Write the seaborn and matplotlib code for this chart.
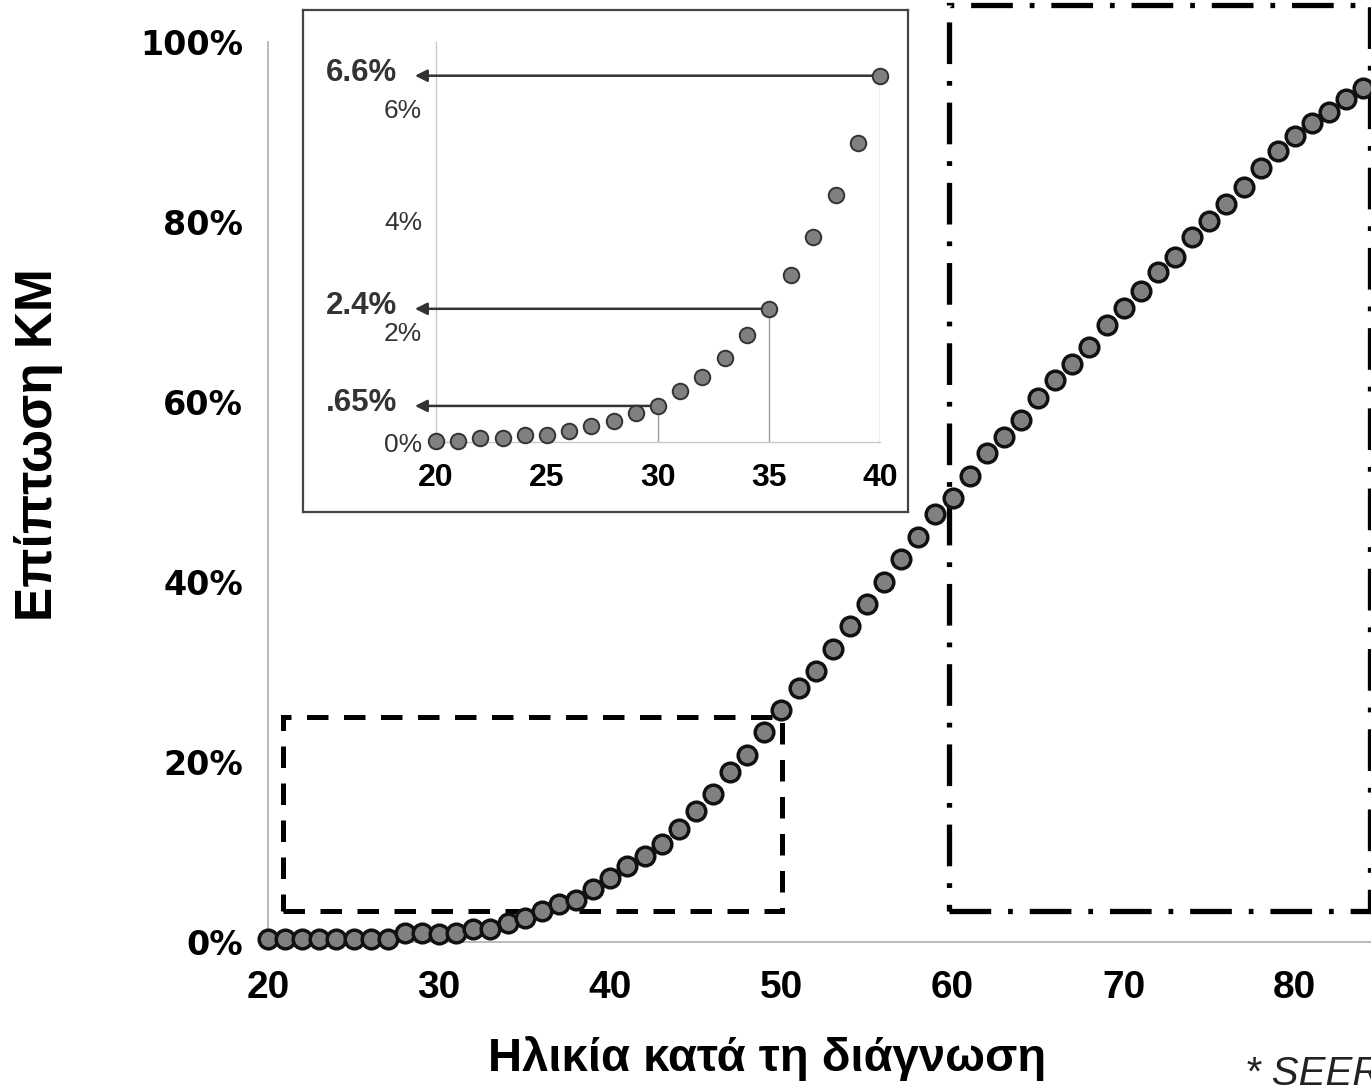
import seaborn as sns
import matplotlib.pyplot as plt
from matplotlib.patches import Rectangle
from matplotlib.ticker import MultipleLocator, FixedLocator, FuncFormatter

# Καμπύλη επίπτωσης ανά ηλικία (κύριο γράφημα)
ages = list(range(20, 85))
incidence = [0.3, 0.3, 0.3, 0.3, 0.3, 0.3, 0.3, 0.3, 1.0, 1.0,
             0.9, 1.0, 1.5, 1.4, 2.1, 2.7, 3.4, 4.2, 4.7, 5.9,
             7.1, 8.4, 9.6, 10.9, 12.6, 14.6, 16.4, 18.9, 20.8, 23.3,
             25.8, 28.2, 30.1, 32.6, 35.1, 37.6, 40.0, 42.6, 45.0, 47.6,
             49.3, 51.8, 54.3, 56.1, 58.0, 60.5, 62.4, 64.2, 66.1, 68.6,
             70.5, 72.3, 74.4, 76.1, 78.3, 80.1, 82.0, 83.9, 86.0, 87.9,
             89.6, 91.0, 92.2, 93.7, 94.9]

# Ένθετο: ηλικίες 20-40
inset_ages = list(range(20, 41))
inset_incidence = [0.02, 0.02, 0.08, 0.08, 0.13, 0.13, 0.19, 0.28, 0.38, 0.52,
                   0.65, 0.92, 1.17, 1.52, 1.92, 2.4, 3.01, 3.70, 4.45, 5.39, 6.6]
callout_ages = [30, 35, 40]
callout_values = [0.65, 2.4, 6.6]
callout_labels = ['.65%', '2.4%', '6.6%']

main_ticks = [0, 20, 40, 60, 80, 100]
inset_ticks = [0, 2, 4, 6]

sns.set_style('white')
plt.rcParams['font.family'] = ['Liberation Sans', 'DejaVu Sans']
plt.rcParams['text.color'] = 'black'
plt.rcParams['xtick.labelcolor'] = 'black'
plt.rcParams['ytick.labelcolor'] = 'black'

W, H = 1371, 1085
fig = plt.figure(figsize=(W / 100, H / 100), dpi=100)

tick_grey = '#aaaaaa'
fill = '#808080'

# ---- κύριο γράφημα
ax = fig.add_axes([268 / W, 1 - 942 / H, (W - 268) / W, 900 / H])
sns.scatterplot(x=ages, y=incidence, ax=ax, s=180, color=fill,
                edgecolor='#111111', linewidth=2.5, zorder=5, clip_on=False)
ax.set_xlim(20, 84.45)
ax.set_ylim(0, 100)
for side in ['top', 'right']:
    ax.spines[side].set_visible(False)
for side in ['left', 'bottom']:
    ax.spines[side].set_color('#b5b5b5')
    ax.spines[side].set_linewidth(1.3)

ax.xaxis.set_major_locator(MultipleLocator(10))
ax.xaxis.set_minor_locator(FixedLocator([25, 35, 45, 55, 65, 75]))
ax.tick_params(axis='x', which='major', length=16, width=1.2, color=tick_grey,
               pad=4, labelsize=28)
ax.tick_params(axis='x', which='minor', length=11, width=1.2, color=tick_grey)
for lab in ax.get_xticklabels():
    lab.set_fontweight('bold')

ax.set_yticks(main_ticks)
ax.yaxis.set_major_formatter(FuncFormatter(lambda v, p: f'{v:.0f}%'))
ax.tick_params(axis='y', length=12, width=1.2, color=tick_grey, pad=6)
for lab in ax.get_yticklabels():
    lab.set_family('DejaVu Sans')
    lab.set_fontweight('bold')
    lab.set_fontsize(24)

# πλαίσια σημείωσης
ax.add_patch(Rectangle((20.9, 3.4), 50.05 - 20.9, 25.0 - 3.4, fill=False,
                       edgecolor='black', lw=3.6, linestyle=(0, (4.3, 3.1)),
                       clip_on=False, zorder=3))
ax.add_patch(Rectangle((59.77, 3.4), 84.39 - 59.77, 104.1 - 3.4, fill=False,
                       edgecolor='black', lw=3.8,
                       linestyle=(0, (7.9, 3.2, 0.9, 3.2)),
                       clip_on=False, zorder=3))

fig.text(767 / W, 1 - 1071 / H, 'Ηλικία κατά τη διάγνωση', ha='center',
         va='baseline', fontsize=34, fontweight='bold')
fig.text(52 / W, 1 - 445 / H, 'Επίπτωση ΚΜ', rotation=90, rotation_mode='anchor',
         ha='center', va='baseline', fontsize=37, fontweight='bold')
fig.text(1245 / W, 1 - 1055 / H, '* SEER', ha='left', va='top', fontsize=29,
         style='italic', color='#222222')

# ---- ένθετο
frame = fig.add_axes([303 / W, 1 - 512 / H, 605 / W, 502 / H])
frame.set_xticks([])
frame.set_yticks([])
frame.set_facecolor('white')
for sp in frame.spines.values():
    sp.set_color('#444444')
    sp.set_linewidth(1.6)

ins = fig.add_axes([436 / W, 1 - 442 / H, 444 / W, 399.6 / H])
ins.patch.set_alpha(0)
ins.vlines(callout_ages, 0, callout_values, color='#a0a0a0', lw=1, zorder=2)
for a, v, lbl in zip(callout_ages, callout_values, callout_labels):
    ins.annotate('', xy=(19.05, v), xytext=(a, v),
                 arrowprops=dict(arrowstyle='-|>', color='#333333', lw=1.8,
                                 mutation_scale=18, shrinkA=0, shrinkB=0),
                 annotation_clip=False, zorder=3)
    ins.text(18.24, v + 0.05, lbl, ha='right', va='center', fontsize=22.5,
             fontweight='bold', color='#333333')
sns.scatterplot(x=inset_ages, y=inset_incidence, ax=ins, s=125, color=fill,
                edgecolor='#333333', linewidth=1.4, zorder=5, clip_on=False)
ins.set_xlim(20, 40)
ins.set_ylim(0, 7.2)
for side in ['top', 'right']:
    ins.spines[side].set_visible(False)
for side in ['left', 'bottom']:
    ins.spines[side].set_color('#c8c8c8')
    ins.spines[side].set_linewidth(1)
ins.set_xticks([20, 25, 30, 35, 40])
ins.tick_params(axis='x', length=8, width=1, color=tick_grey, pad=7, labelsize=23)
for lab in ins.get_xticklabels():
    lab.set_fontweight('bold')
ins.set_yticks(inset_ticks)
ins.yaxis.set_minor_locator(FixedLocator([1, 3, 5, 7]))
ins.yaxis.set_major_formatter(FuncFormatter(lambda v, p: f'{v:.0f}%'))
ins.tick_params(axis='y', which='both', length=3, width=1, color=tick_grey,
                pad=7, labelsize=19, labelcolor='#333333')

fig.savefig('out.png', dpi=100)
